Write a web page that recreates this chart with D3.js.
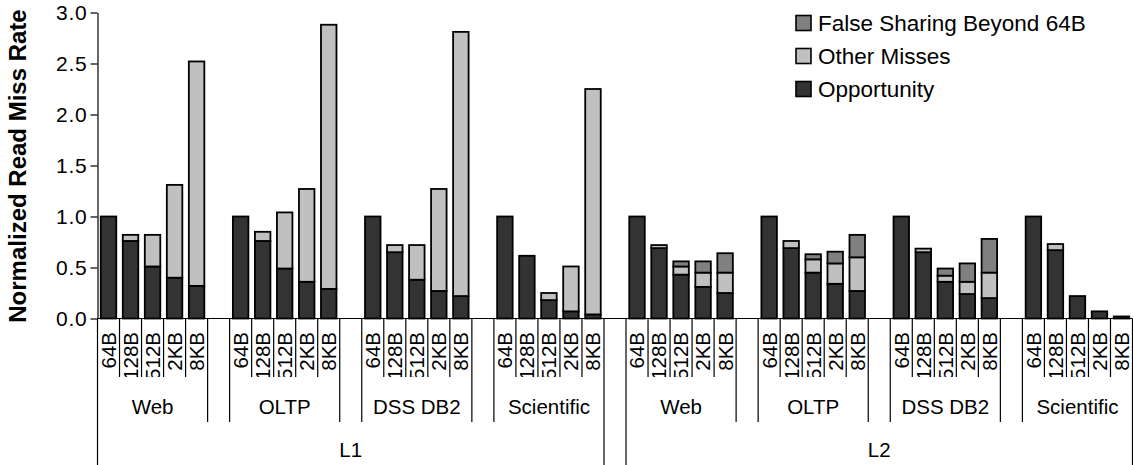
<!DOCTYPE html>
<html>
<head>
<meta charset="utf-8">
<script src="https://cdn.jsdelivr.net/npm/d3@7"></script>
<style>
  html, body { margin: 0; padding: 0; background: #fff; }
  svg { display: block; font-family: "Liberation Sans", Arial, Helvetica, sans-serif; }
</style>
</head>
<body>
<svg id="chart" width="1133" height="465"></svg>
<script>
// ---- data -------------------------------------------------------------
const levels = ["L1", "L2"];
const workloads = ["Web", "OLTP", "DSS DB2", "Scientific"];
const blockSizes = ["64B", "128B", "512B", "2KB", "8KB"];
const seriesKeys = ["opportunity", "other", "falseSharing"];
const seriesNames = ["Opportunity", "Other Misses", "False Sharing Beyond 64B"];
const yTicks = [0, 0.5, 1.0, 1.5, 2.0, 2.5, 3.0];

// order: L1 (Web, OLTP, DSS DB2, Scientific) then L2 (same), 5 block sizes each
const opportunity = [
  1.00, 0.76, 0.51, 0.40, 0.32,
  1.00, 0.76, 0.49, 0.36, 0.29,
  1.00, 0.65, 0.38, 0.27, 0.22,
  1.00, 0.615, 0.18, 0.07, 0.04,
  1.00, 0.69, 0.43, 0.31, 0.25,
  1.00, 0.69, 0.45, 0.34, 0.27,
  1.00, 0.65, 0.36, 0.24, 0.20,
  1.00, 0.67, 0.22, 0.07, 0.02
];
const otherMisses = [
  0, 0.06, 0.31, 0.91, 2.20,
  0, 0.09, 0.55, 0.91, 2.59,
  0, 0.07, 0.34, 1.00, 2.59,
  0, 0, 0.07, 0.44, 2.21,
  0, 0.03, 0.08, 0.14, 0.20,
  0, 0.07, 0.13, 0.20, 0.33,
  0, 0.035, 0.06, 0.12, 0.25,
  0, 0.06, 0, 0, 0
];
const falseSharing = [
  0, 0, 0, 0, 0,
  0, 0, 0, 0, 0,
  0, 0, 0, 0, 0,
  0, 0, 0, 0, 0,
  0, 0, 0.05, 0.11, 0.19,
  0, 0, 0.05, 0.115, 0.22,
  0, 0, 0.07, 0.18, 0.33,
  0, 0, 0, 0, 0
];

const colors = { opportunity: "#333333", other: "#c0c0c0", falseSharing: "#808080" };

// ---- category slots (bars plus blank spacer slots) ----------------------
const slots = [];
let n = 0;
levels.forEach((lv, li) => {
  workloads.forEach((wl, wi) => {
    blockSizes.forEach((bs) => {
      const idx = n++;
      slots.push({
        key: `${lv}|${wl}|${bs}`, level: lv, workload: wl, size: bs,
        opportunity: opportunity[idx], other: otherMisses[idx], falseSharing: falseSharing[idx]
      });
    });
    const lastOverall = li === levels.length - 1 && wi === workloads.length - 1;
    if (!lastOverall) {
      const lastInLevel = wi === workloads.length - 1;
      slots.push({ key: `${lv}|${wl}|gap`, level: lastInLevel ? null : lv, workload: null, size: null });
    }
  });
});
const bars = slots.filter(s => s.size);

// ---- layout -----------------------------------------------------------
const svg = d3.select("#chart");
const plot = { left: 97.5, right: 1132.5, top: 12.5, bottom: 318.5 };

const x = d3.scaleBand().domain(slots.map(s => s.key)).range([plot.left, plot.right]).padding(0);
const y = d3.scaleLinear().domain([0, 3]).range([plot.bottom, plot.top]);
const bw = x.bandwidth();
const barW = 15.5;

// ---- bars -------------------------------------------------------------
const stacked = d3.stack().keys(seriesKeys)(bars);
const g = svg.append("g");
stacked.forEach(layer => {
  g.selectAll(null)
    .data(layer.filter(d => d[1] - d[0] > 0))
    .join("rect")
    .attr("x", d => x(d.data.key) + (bw - barW) / 2)
    .attr("y", d => y(d[1]))
    .attr("width", barW)
    .attr("height", d => y(d[0]) - y(d[1]))
    .attr("fill", colors[layer.key])
    .attr("stroke", "#000")
    .attr("stroke-width", 1.8);
});

// ---- y axis -----------------------------------------------------------
const yAxis = svg.append("g")
  .attr("transform", `translate(${plot.left},0)`)
  .call(d3.axisLeft(y).tickValues(yTicks).tickFormat(d3.format(".1f")).tickSize(7).tickSizeOuter(0).tickPadding(3));
yAxis.select(".domain").attr("stroke", "#000").attr("stroke-width", 1.2);
yAxis.selectAll(".tick line").attr("stroke", "#000").attr("stroke-width", 1.2);
yAxis.selectAll(".tick text").attr("font-size", 21).attr("fill", "#000")
  .attr("letter-spacing", 0.8)
  .attr("font-family", "'Liberation Sans', Arial, sans-serif");

svg.append("text")
  .attr("transform", `translate(26,166) rotate(-90)`)
  .attr("text-anchor", "middle")
  .attr("font-size", 24)
  .attr("font-weight", "bold")
  .attr("fill", "#000")
  .text("Normalized Read Miss Rate");

// ---- category axis ----------------------------------------------------
const axis = svg.append("g").attr("stroke", "#000").attr("stroke-width", 1.2);
axis.append("line")
  .attr("x1", plot.left).attr("x2", plot.right)
  .attr("y1", plot.bottom).attr("y2", plot.bottom);

const depth = { short: 377, mid: 422, full: 466 };
d3.range(slots.length + 1).forEach(i => {
  const a = slots[i - 1], b = slots[i];
  let d;
  if (!a || !b || a.level !== b.level) d = depth.full;
  else if (a.workload !== b.workload) d = depth.mid;
  else d = depth.short;
  const xp = plot.left + i * x.step();
  axis.append("line").attr("x1", xp).attr("x2", xp).attr("y1", plot.bottom).attr("y2", d);
});

// block-size labels (rotated, clipped to their row)
svg.append("clipPath").attr("id", "sizeRow")
  .append("rect").attr("x", plot.left).attr("y", plot.bottom + 1).attr("width", plot.right - plot.left).attr("height", depth.short - plot.bottom - 1);
svg.append("g").attr("clip-path", "url(#sizeRow)")
  .selectAll("text").data(bars).join("text")
  .attr("transform", d => `translate(${x(d.key) + bw / 2 + 7.4},332) rotate(-90)`)
  .attr("text-anchor", "end")
  .attr("font-size", 20.5)
  .attr("fill", "#000")
  .text(d => d.size);

// workload labels
const groupLabels = [];
levels.forEach(lv => workloads.forEach(wl => {
  const keys = blockSizes.map(bs => `${lv}|${wl}|${bs}`);
  groupLabels.push({ text: wl, cx: (x(keys[0]) + x(keys[keys.length - 1]) + bw) / 2 });
}));
svg.append("g").selectAll("text").data(groupLabels).join("text")
  .attr("x", d => d.cx).attr("y", 414)
  .attr("text-anchor", "middle").attr("font-size", 20.5).attr("fill", "#000")
  .text(d => d.text);

// cache level labels
const levelLabels = levels.map(lv => {
  const ks = slots.filter(s => s.level === lv && s.size).map(s => s.key);
  return { text: lv, cx: (x(ks[0]) + x(ks[ks.length - 1]) + bw) / 2 };
});
svg.append("g").selectAll("text").data(levelLabels).join("text")
  .attr("x", d => d.cx).attr("y", 457)
  .attr("text-anchor", "middle").attr("font-size", 20.5).attr("fill", "#000")
  .text(d => d.text);

// ---- legend -----------------------------------------------------------
const legendItems = seriesKeys.map((k, i) => ({ key: k, name: seriesNames[i] })).reverse();
const lg = svg.append("g").selectAll("g").data(legendItems).join("g")
  .attr("transform", (d, i) => `translate(796,${23 + i * 33})`);
lg.append("rect")
  .attr("x", 0).attr("y", -7.5).attr("width", 15).attr("height", 15)
  .attr("fill", d => colors[d.key]).attr("stroke", "#000").attr("stroke-width", 1.6);
lg.append("text")
  .attr("x", 22).attr("y", 8)
  .attr("font-size", 22.5).attr("fill", "#000")
  .text(d => d.name);
</script>
</body>
</html>
